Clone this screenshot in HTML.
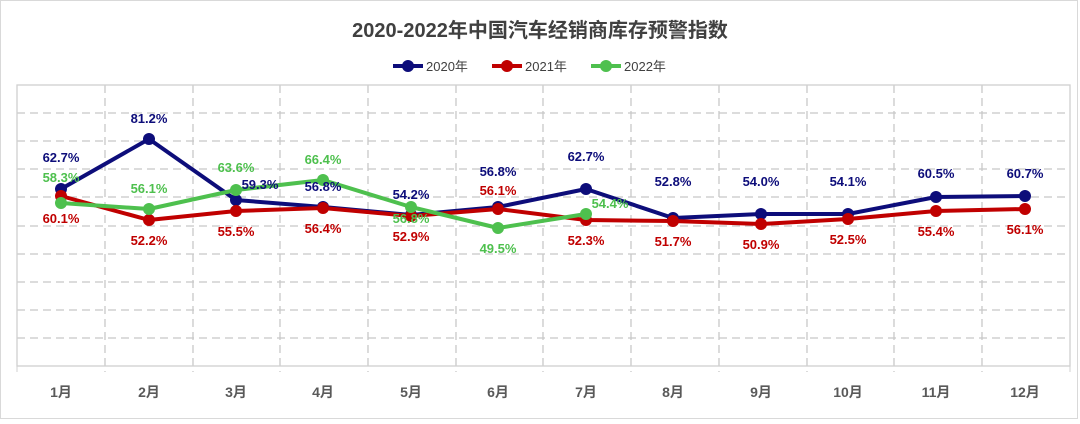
<!DOCTYPE html>
<html><head><meta charset="utf-8"><style>
body{margin:0;background:#fff;}
svg text{font-family:"Liberation Sans","Noto Sans CJK SC",sans-serif;}
.lb{font-family:"Liberation Sans Narrow","Liberation Sans","Noto Sans CJK SC",sans-serif;font-weight:bold;font-size:13px;text-anchor:middle;}
</style></head><body>
<svg width="1080" height="419" xmlns="http://www.w3.org/2000/svg">
<rect x="0.5" y="0.5" width="1077" height="418" fill="#fff" stroke="#d9d9d9"/>
<text x="540" y="37" font-size="20" font-weight="bold" fill="#404040" text-anchor="middle">2020-2022年中国汽车经销商库存预警指数</text>
<g font-size="13" fill="#404040">
<line x1="393" y1="66" x2="423" y2="66" stroke="#0d0d7a" stroke-width="4"/><circle cx="408" cy="66" r="6" fill="#0d0d7a"/>
<text x="426" y="71">2020年</text>
<line x1="492" y1="66" x2="522" y2="66" stroke="#c00000" stroke-width="4"/><circle cx="507" cy="66" r="6" fill="#c00000"/>
<text x="525" y="71">2021年</text>
<line x1="591" y1="66" x2="621" y2="66" stroke="#4ec04e" stroke-width="4"/><circle cx="606" cy="66" r="6" fill="#4ec04e"/>
<text x="624" y="71">2022年</text>
</g>
<g stroke="#c8c8c8" stroke-width="1.3" stroke-dasharray="8,5">
<line x1="17" y1="113" x2="1070" y2="113"/><line x1="17" y1="141" x2="1070" y2="141"/>
<line x1="17" y1="169" x2="1070" y2="169"/><line x1="17" y1="197" x2="1070" y2="197"/>
<line x1="17" y1="226" x2="1070" y2="226"/><line x1="17" y1="254" x2="1070" y2="254"/>
<line x1="17" y1="282" x2="1070" y2="282"/><line x1="17" y1="310" x2="1070" y2="310"/>
<line x1="17" y1="338" x2="1070" y2="338"/>
<line x1="105" y1="85" x2="105" y2="372"/><line x1="193" y1="85" x2="193" y2="372"/>
<line x1="280" y1="85" x2="280" y2="372"/><line x1="368" y1="85" x2="368" y2="372"/>
<line x1="456" y1="85" x2="456" y2="372"/><line x1="543" y1="85" x2="543" y2="372"/>
<line x1="631" y1="85" x2="631" y2="372"/><line x1="719" y1="85" x2="719" y2="372"/>
<line x1="807" y1="85" x2="807" y2="372"/><line x1="894" y1="85" x2="894" y2="372"/>
<line x1="982" y1="85" x2="982" y2="372"/>
</g>
<rect x="17" y="85" width="1053" height="281" fill="none" stroke="#d0d0d0" stroke-width="1.3"/>
<line x1="17" y1="366" x2="17" y2="372" stroke="#d0d0d0"/><line x1="1070" y1="366" x2="1070" y2="372" stroke="#d0d0d0"/>
<g fill="none" stroke-width="4" stroke-linejoin="round">
<polyline stroke="#0d0d7a" points="61,189 149,139 236,200 323,207 411,215 498,207 586,189 673,218 761,214 848,214 936,197 1025,196"/>
<polyline stroke="#c00000" points="61,196 149,220 236,211 323,208 411,216 498,209 586,220 673,221 761,224 848,219 936,211 1025,209"/>
<polyline stroke="#4ec04e" points="61,203 149,209 236,190 323,180 411,207 498,228 586,214"/>
</g>
<g fill="#0d0d7a"><circle cx="61" cy="189" r="6"/><circle cx="149" cy="139" r="6"/><circle cx="236" cy="200" r="6"/><circle cx="323" cy="207" r="6"/><circle cx="411" cy="215" r="6"/><circle cx="498" cy="207" r="6"/><circle cx="586" cy="189" r="6"/><circle cx="673" cy="218" r="6"/><circle cx="761" cy="214" r="6"/><circle cx="848" cy="214" r="6"/><circle cx="936" cy="197" r="6"/><circle cx="1025" cy="196" r="6"/></g>
<g fill="#c00000"><circle cx="61" cy="196" r="6"/><circle cx="149" cy="220" r="6"/><circle cx="236" cy="211" r="6"/><circle cx="323" cy="208" r="6"/><circle cx="411" cy="216" r="6"/><circle cx="498" cy="209" r="6"/><circle cx="586" cy="220" r="6"/><circle cx="673" cy="221" r="6"/><circle cx="761" cy="224" r="6"/><circle cx="848" cy="219" r="6"/><circle cx="936" cy="211" r="6"/><circle cx="1025" cy="209" r="6"/></g>
<g fill="#4ec04e"><circle cx="61" cy="203" r="6"/><circle cx="149" cy="209" r="6"/><circle cx="236" cy="190" r="6"/><circle cx="323" cy="180" r="6"/><circle cx="411" cy="207" r="6"/><circle cx="498" cy="228" r="6"/><circle cx="586" cy="214" r="6"/></g>
<g class="lb" fill="#0d0d7a">
<text class="lb" x="61" y="162">62.7%</text><text class="lb" x="149" y="123">81.2%</text><text class="lb" x="260" y="189">59.3%</text><text class="lb" x="323" y="191">56.8%</text><text class="lb" x="411" y="199">54.2%</text><text class="lb" x="498" y="176">56.8%</text><text class="lb" x="586" y="161">62.7%</text><text class="lb" x="673" y="186">52.8%</text><text class="lb" x="761" y="186">54.0%</text><text class="lb" x="848" y="186">54.1%</text><text class="lb" x="936" y="178">60.5%</text><text class="lb" x="1025" y="178">60.7%</text>
</g>
<g fill="#c00000">
<text class="lb" x="61" y="223">60.1%</text><text class="lb" x="149" y="245">52.2%</text><text class="lb" x="236" y="236">55.5%</text><text class="lb" x="323" y="233">56.4%</text><text class="lb" x="411" y="241">52.9%</text><text class="lb" x="498" y="195">56.1%</text><text class="lb" x="586" y="245">52.3%</text><text class="lb" x="673" y="246">51.7%</text><text class="lb" x="761" y="249">50.9%</text><text class="lb" x="848" y="244">52.5%</text><text class="lb" x="936" y="236">55.4%</text><text class="lb" x="1025" y="234">56.1%</text>
</g>
<g fill="#4ec04e">
<text class="lb" x="61" y="182">58.3%</text><text class="lb" x="149" y="193">56.1%</text><text class="lb" x="236" y="172">63.6%</text><text class="lb" x="323" y="164">66.4%</text><text class="lb" x="411" y="223">56.8%</text><text class="lb" x="498" y="253">49.5%</text><text class="lb" x="610" y="208">54.4%</text>
</g>
<g font-size="14" font-weight="bold" fill="#595959" text-anchor="middle">
<text x="61" y="397">1月</text><text x="149" y="397">2月</text><text x="236" y="397">3月</text><text x="323" y="397">4月</text><text x="411" y="397">5月</text><text x="498" y="397">6月</text><text x="586" y="397">7月</text><text x="673" y="397">8月</text><text x="761" y="397">9月</text><text x="848" y="397">10月</text><text x="936" y="397">11月</text><text x="1025" y="397">12月</text>
</g>
</svg>
</body></html>
